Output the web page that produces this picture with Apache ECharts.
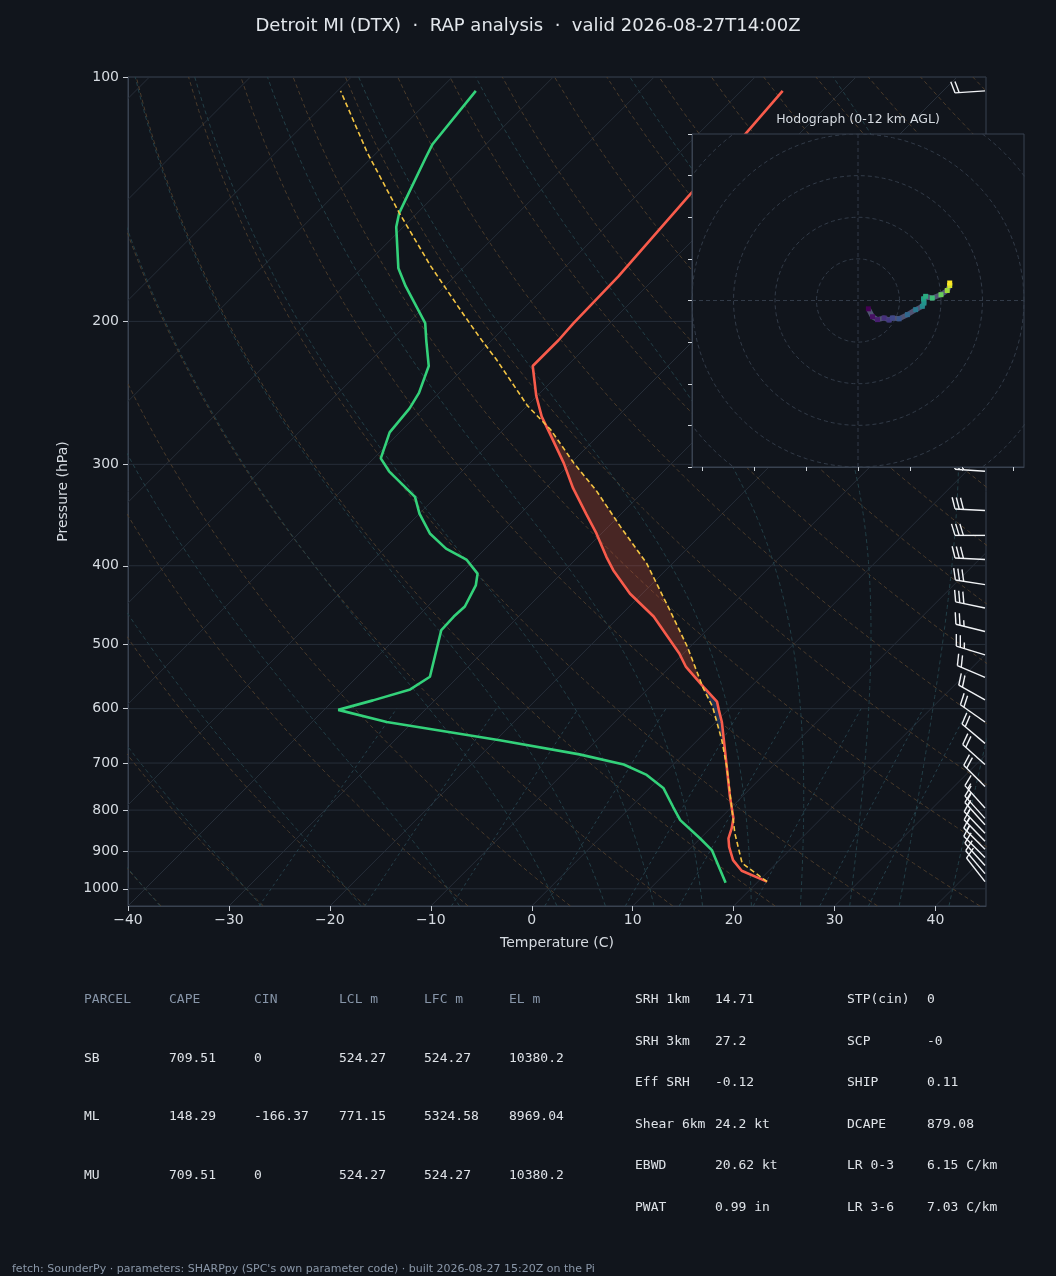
<!DOCTYPE html>
<html>
<head>
<meta charset="utf-8">
<title>Skew-T Detroit</title>
<script src="https://cdn.jsdelivr.net/npm/echarts@6/dist/echarts.min.js"></script>
<style>
html, body { margin: 0; padding: 0; background: #11151c; }
#main { width: 1056px; height: 1276px; }
</style>
</head>
<body>
<div id="main"></div>
<script>
// environment temperature (hPa / degC)
var tempP = [980, 950, 922, 888, 867, 842, 819, 770, 707, 656, 623, 602, 588, 564, 533, 513, 462, 433, 405, 390, 365, 345, 321, 299, 275, 262, 247, 227, 211, 201, 176, 140, 118, 104];
var tempC = [20.9, 17.3, 15.4, 13.7, 12.8, 12.1, 11.3, 8.8, 5.5, 2.6, 0.6, -0.9, -1.9, -4.7, -8.4, -10.4, -16.6, -21.2, -25.2, -27.2, -30.5, -33.5, -37.3, -40.7, -45.0, -47.5, -50.1, -53.4, -53.4, -53.6, -53.8, -54.8, -55.3, -55.9];

// dewpoint
var dewP = [983, 896, 867, 823, 793, 752, 724, 703, 683, 656, 623, 602, 586, 568, 548, 480, 462, 449, 423, 409, 393, 381, 365, 345, 329, 306, 295, 274, 256, 245, 227, 211, 201, 181, 172, 153, 147, 126, 121, 104];
var dewC = [16.9, 12.3, 10.0, 6.2, 4.2, 1.4, -1.6, -4.9, -10.3, -19.6, -32.6, -38.6, -36.1, -33.5, -32.8, -36.3, -36.4, -36.3, -37.3, -38.3, -40.8, -43.9, -47.0, -50.0, -52.1, -57.2, -59.3, -61.0, -61.4, -62.0, -63.7, -66.5, -68.3, -73.9, -76.4, -80.7, -81.8, -84.6, -85.3, -86.3];

// surface parcel path
var parcelP = [980, 930, 854, 793, 707, 656, 623, 597, 566, 503, 454, 397, 358, 323, 299, 272, 254, 223, 211, 197, 171, 147, 124, 104];
var parcelC = [20.9, 16.6, 12.9, 10.0, 5.5, 2.4, 0.1, -1.8, -4.6, -10.3, -15.6, -22.6, -28.8, -34.8, -39.7, -45.3, -50.0, -57.6, -61.0, -65.1, -73.4, -81.8, -90.9, -99.7];

// shaded layers (hPa): CIN below LFC, CAPE from LFC to EL
var cinLayer = [677, 566];
var capeLayer = [566, 272];

// wind barbs on the right edge
var barbP = [104, 306, 342, 367, 393, 422, 451, 482, 515, 549, 585, 623, 662, 703, 748, 795, 819, 834, 854, 874, 894, 915, 936, 958, 980];
var barbDir = [266, 274, 273, 270, 273, 279, 282, 284, 287, 293, 299, 305, 310, 312, 315, 318, 318, 318, 316, 316, 315, 315, 318, 320, 322];
var barbSpd = [20, 30, 30, 30, 30, 30, 30, 25, 25, 20, 20, 20, 20, 20, 20, 15, 15, 15, 15, 15, 15, 10, 10, 10, 10];

// hodograph trace (u, v) and height km
var hodoU = [2.5, 3.5, 4.7, 6.3, 7.5, 8.3, 9.9, 11.9, 13.9, 15.5, 15.9, 15.8, 16.3, 17.9, 20.0, 21.5, 22.1, 22.1];
var hodoV = [-2.0, -3.9, -4.6, -4.2, -4.7, -4.2, -4.4, -3.4, -2.2, -1.4, -0.6, 0.4, 1.0, 0.6, 1.4, 2.4, 3.6, 4.2];
var hodoH = [0, 0.5, 1.0, 1.6, 2.0, 2.6, 3.2, 4.0, 4.8, 5.6, 6.2, 6.8, 7.4, 8.2, 9.2, 10.2, 11.2, 12];
var hodoRings = [10, 20, 30, 40, 50];
var hodoXTicks = [-37.5, -25, -12.5, 0, 12.5, 25, 37.5];

// axis ticks
var pressureTicks = [100, 200, 300, 400, 500, 600, 700, 800, 900, 1000];
var tempTicks = [-40, -30, -20, -10, 0, 10, 20, 30, 40];

// background reference lines
var isotherms = [-120, -110, -100, -90, -80, -70, -60, -50, -40, -30, -20, -10, 0, 10, 20, 30, 40];
var dryT0 = [-40, -30, -20, -10, 0, 10, 20, 30, 40, 50, 60, 70, 80, 90, 100, 110, 120, 130, 140, 150, 160, 170, 180, 190, 200, 210, 220, 230, 240];
var moistT0 = [-40, -30, -20, -10, 0, 5, 10, 15, 20, 25, 30, 35, 40, 45];
var mixingRatios = [0.0004, 0.001, 0.002, 0.004, 0.007, 0.01, 0.016, 0.024, 0.032];

// table texts
var parcelHeader = ['PARCEL', 'CAPE', 'CIN', 'LCL m', 'LFC m', 'EL m'];
var parcelRows = [
    ['SB', '709.51', '0', '524.27', '524.27', '10380.2'],
    ['ML', '148.29', '-166.37', '771.15', '5324.58', '8969.04'],
    ['MU', '709.51', '0', '524.27', '524.27', '10380.2']
];
var paramLeft = [['SRH 1km', '14.71'], ['SRH 3km', '27.2'], ['Eff SRH', '-0.12'], ['Shear 6km', '24.2 kt'], ['EBWD', '20.62 kt'], ['PWAT', '0.99 in']];
var paramRight = [['STP(cin)', '0'], ['SCP', '-0'], ['SHIP', '0.11'], ['DCAPE', '879.08'], ['LR 0-3', '6.15 C/km'], ['LR 3-6', '7.03 C/km']];

var titleText = 'Detroit MI (DTX)  \u00b7  RAP analysis  \u00b7  valid 2026-08-27T14:00Z';
var footerText = "fetch: SounderPy \u00b7 parameters: SHARPpy (SPC's own parameter code) \u00b7 built 2026-08-27 15:20Z on the Pi";

/* ---------- layout & skew ---------- */
var BG = '#11151c';
var FRAME = '#394250';
var TXT = '#d6dbe1';
var PLOT = {left: 128, top: 77, width: 858, height: 829};
var HODO = {left: 692, top: 134, width: 332, height: 333};
var T_MIN = -40, T_MAX = 45;
var LOG_MIN = 2, LOG_MAX = Math.log10(1050);
// 45 degree isotherms: degrees of shift per decade of pressure
var SKEW = (PLOT.height / (LOG_MAX - LOG_MIN)) / (PLOT.width / (T_MAX - T_MIN));

function pt(t, p) {
    return [t + SKEW * (LOG_MAX - Math.log10(p)), Math.log10(p)];
}
function profile(pArr, tArr) {
    return pArr.map(function (p, i) { return pt(tArr[i], p); });
}
// value of a profile at p, linear in log p
function valueAt(pArr, tArr, p) {
    for (var i = 0; i < pArr.length - 1; i++) {
        if (p <= pArr[i] && p >= pArr[i + 1]) {
            var f = (Math.log(pArr[i]) - Math.log(p)) / (Math.log(pArr[i]) - Math.log(pArr[i + 1]));
            return tArr[i] + f * (tArr[i + 1] - tArr[i]);
        }
    }
    return tArr[tArr.length - 1];
}
function layerPolygon(pBot, pTop) {
    var levels = [pBot];
    parcelP.concat(tempP).forEach(function (p) { if (p < pBot && p > pTop) levels.push(p); });
    levels.push(pTop);
    levels.sort(function (a, b) { return b - a; });
    var side1 = levels.map(function (p) { return pt(valueAt(parcelP, parcelC, p), p); });
    var side2 = levels.slice().reverse().map(function (p) { return pt(valueAt(tempP, tempC, p), p); });
    return side1.concat(side2);
}

/* ---------- thermodynamic background lines ---------- */
function dryLine(t0) {
    var out = [];
    for (var p = 1050; p >= 100; p -= 10) {
        out.push(pt((t0 + 273.15) * Math.pow(p / 1000, 0.2857) - 273.15, p));
    }
    return out;
}
function moistRate(p, tk) {
    var Rd = 287.04, Cp = 1005.7, Lv = 2.501e6, eps = 0.622;
    var tc = tk - 273.15;
    var es = 6.112 * Math.exp(17.67 * tc / (tc + 243.5));
    var rs = eps * es / (p - es);
    return (1 / p) * (Rd * tk + Lv * rs) / (Cp + (Lv * Lv * rs * eps) / (Rd * tk * tk));
}
function moistLine(t0) {
    var up = [], down = [], tk, p, dp, k1, k2;
    tk = t0 + 273.15; p = 1000; dp = -5;
    up.push(pt(t0, p));
    while (p > 100) {
        k1 = moistRate(p, tk);
        k2 = moistRate(p + dp, tk + k1 * dp);
        tk += 0.5 * (k1 + k2) * dp; p += dp;
        up.push(pt(tk - 273.15, p));
    }
    tk = t0 + 273.15; p = 1000; dp = 5;
    while (p < 1050) {
        k1 = moistRate(p, tk);
        k2 = moistRate(p + dp, tk + k1 * dp);
        tk += 0.5 * (k1 + k2) * dp; p += dp;
        down.unshift(pt(tk - 273.15, p));
    }
    return down.concat(up);
}
function mixingLine(w) {
    var out = [];
    for (var p = 1050; p >= 600; p -= 10) {
        var e = p * w / (0.622 + w);
        var l = Math.log(e / 6.112);
        out.push(pt(243.5 * l / (17.67 - l), p));
    }
    return out;
}

var series = [];
function bgLine(data, color, dash) {
    series.push({
        type: 'line', xAxisIndex: 0, yAxisIndex: 0, data: data,
        symbol: 'none', silent: true, animation: false, z: 1,
        lineStyle: {color: color, width: 1, type: dash}
    });
}
pressureTicks.forEach(function (p) {
    bgLine([[T_MIN, Math.log10(p)], [T_MAX, Math.log10(p)]], '#262e39', 'solid');
});
isotherms.forEach(function (t) { bgLine([pt(t, 1050), pt(t, 100)], '#262e39', 'solid'); });
dryT0.forEach(function (t) { bgLine(dryLine(t), '#4a3b2b', [4, 3]); });
moistT0.forEach(function (t) { bgLine(moistLine(t), '#233f47', [4, 3]); });
mixingRatios.forEach(function (w) { bgLine(mixingLine(w), '#26414c', [3, 3]); });

/* ---------- CAPE / CIN shading ---------- */
function fillSeries(poly, color) {
    series.push({
        type: 'custom', coordinateSystem: 'cartesian2d', xAxisIndex: 0, yAxisIndex: 0,
        data: [[0, 2.5]], encode: {x: 0, y: 1}, silent: true, animation: false, z: 2,
        renderItem: function (params, api) {
            return {
                type: 'polygon',
                shape: {points: poly.map(function (d) { return api.coord(d); })},
                style: {fill: color}
            };
        }
    });
}
fillSeries(layerPolygon(cinLayer[0], cinLayer[1]), 'rgba(70,120,220,0.28)');
fillSeries(layerPolygon(capeLayer[0], capeLayer[1]), 'rgba(230,90,60,0.26)');

/* ---------- profiles ---------- */
series.push({
    name: 'Parcel', type: 'line', xAxisIndex: 0, yAxisIndex: 0, data: profile(parcelP, parcelC),
    symbol: 'none', animation: false, z: 4,
    lineStyle: {color: '#f3c443', width: 1.6, type: [5, 3]}
});
series.push({
    name: 'Temperature', type: 'line', xAxisIndex: 0, yAxisIndex: 0, data: profile(tempP, tempC),
    symbol: 'none', animation: false, z: 3,
    lineStyle: {color: '#f85b4b', width: 2.6}
});
series.push({
    name: 'Dewpoint', type: 'line', xAxisIndex: 0, yAxisIndex: 0, data: profile(dewP, dewC),
    symbol: 'none', animation: false, z: 3,
    lineStyle: {color: '#33d17a', width: 2.6}
});

/* ---------- wind barbs ---------- */
function renderBarb(params, api) {
    var base = api.coord([api.value(0), api.value(1)]);
    var spd = api.value(2), dir = api.value(3) * Math.PI / 180;
    var dx = Math.sin(dir), dy = -Math.cos(dir);   // staff points to where wind comes from
    var nx = -dy, ny = dx;                          // feather side
    var L = 30, H = 11.5, LEAN = 3.5, GAP = 4.2;
    var tip = [base[0] + dx * L, base[1] + dy * L];
    var st = {stroke: '#f1f3f6', lineWidth: 1.4};
    var kids = [{type: 'line', shape: {x1: base[0], y1: base[1], x2: tip[0], y2: tip[1]}, style: st}];
    var r = Math.round(spd / 5) * 5;
    var n10 = Math.floor(r / 10), n5 = (r % 10) >= 5 ? 1 : 0;
    var off = 0;
    for (var i = 0; i < n10; i++) {
        var sx0 = tip[0] - dx * off, sy0 = tip[1] - dy * off;
        kids.push({type: 'line', shape: {x1: sx0, y1: sy0, x2: sx0 + nx * H + dx * LEAN, y2: sy0 + ny * H + dy * LEAN}, style: st});
        off += GAP;
    }
    if (n5) {
        if (n10 === 0) off += 1.5 * GAP;
        var hx = tip[0] - dx * off, hy = tip[1] - dy * off;
        kids.push({type: 'line', shape: {x1: hx, y1: hy, x2: hx + nx * H / 2 + dx * LEAN / 2, y2: hy + ny * H / 2 + dy * LEAN / 2}, style: st});
    }
    return {type: 'group', children: kids};
}
series.push({
    type: 'custom', coordinateSystem: 'cartesian2d', xAxisIndex: 0, yAxisIndex: 0,
    data: barbP.map(function (p, i) { return [T_MAX - 0.1, Math.log10(p), barbSpd[i], barbDir[i]]; }),
    encode: {x: 0, y: 1}, renderItem: renderBarb, silent: true, animation: false, z: 5
});

/* ---------- hodograph ---------- */
function hodoLine(data, dash) {
    series.push({
        type: 'line', xAxisIndex: 1, yAxisIndex: 1, data: data, symbol: 'none',
        silent: true, animation: false, z: 50,
        lineStyle: {color: '#323b48', width: 1, type: dash}
    });
}
hodoRings.forEach(function (r) {
    var ring = [];
    for (var a = 0; a <= 360; a += 3) {
        ring.push([r * Math.cos(a * Math.PI / 180), r * Math.sin(a * Math.PI / 180)]);
    }
    hodoLine(ring, [4, 3]);
});
hodoLine([[-40, 0], [40, 0]], [4, 3]);
hodoLine([[0, -40], [0, 40]], [4, 3]);
var hodoIndex = series.length;
series.push({
    name: 'Hodograph', type: 'line', xAxisIndex: 1, yAxisIndex: 1,
    data: hodoU.map(function (u, i) { return [u, hodoV[i], hodoH[i]]; }),
    symbol: 'rect', symbolSize: 5, animation: false, z: 51,
    lineStyle: {width: 5}
});

/* ---------- texts ---------- */
var graphics = [];
function txt(x, y, s, color, font, align) {
    graphics.push({
        type: 'text', x: x, y: y, z: 100, silent: true,
        style: {text: s, fill: color, font: font, align: align || 'left', textAlign: align || 'left',
                verticalAlign: 'middle', textVerticalAlign: 'middle'}
    });
}
var MONO = '13px "DejaVu Sans Mono", monospace';
var colX = [84, 169, 254, 339, 424, 509];
var rowY = [1000, 1058.5, 1117, 1176];
parcelHeader.forEach(function (h, j) { txt(colX[j], rowY[0], h, '#8795a8', MONO); });
parcelRows.forEach(function (row, i) {
    row.forEach(function (c, j) { txt(colX[j], rowY[i + 1], c, '#dfe3e8', MONO); });
});
var prmY = [1000, 1041.5, 1083, 1124.5, 1166, 1207.5];
paramLeft.forEach(function (r, i) {
    txt(635, prmY[i], r[0], '#dfe3e8', MONO);
    txt(715, prmY[i], r[1], '#dfe3e8', MONO);
});
paramRight.forEach(function (r, i) {
    txt(847, prmY[i], r[0], '#dfe3e8', MONO);
    txt(927, prmY[i], r[1], '#dfe3e8', MONO);
});
txt(858, 120, 'Hodograph (0-12 km AGL)', TXT, '12.5px "DejaVu Sans"', 'center');
txt(12, 1269, footerText, '#8a97a8', '11px "DejaVu Sans"');

var myChart = echarts.init(document.getElementById('main'), null, {renderer: 'canvas'});
myChart.setOption({
    backgroundColor: BG,
    animation: false,
    textStyle: {fontFamily: '"DejaVu Sans", sans-serif'},
    title: {
        text: titleText, left: 'center', top: 17, padding: 0,
        textStyle: {color: '#e3e7ec', fontSize: 18, fontWeight: 'normal', fontFamily: '"DejaVu Sans"'}
    },
    grid: [
        {left: PLOT.left, top: PLOT.top, width: PLOT.width, height: PLOT.height,
         show: true, borderColor: FRAME, borderWidth: 1, backgroundColor: 'transparent'},
        {left: HODO.left, top: HODO.top, width: HODO.width, height: HODO.height,
         show: true, borderColor: FRAME, borderWidth: 1, backgroundColor: BG, z: 40}
    ],
    xAxis: [
        {gridIndex: 0, type: 'value', min: T_MIN, max: T_MAX, interval: 10,
         name: 'Temperature (C)', nameLocation: 'middle', nameGap: 30,
         nameTextStyle: {color: TXT, fontSize: 14},
         axisLine: {show: true, onZero: false, lineStyle: {color: FRAME}},
         axisTick: {show: true, length: 5, customValues: tempTicks, lineStyle: {color: '#c9ced5'}},
         axisLabel: {color: TXT, fontSize: 14, margin: 7, customValues: tempTicks,
                     formatter: function (v) { return String(v).replace('-', '\u2212'); }},
         splitLine: {show: false}},
        {gridIndex: 1, type: 'value', min: -40, max: 40, z: 50,
         axisLine: {show: true, onZero: false, lineStyle: {color: FRAME}},
         axisTick: {show: true, length: 4, customValues: hodoXTicks, lineStyle: {color: '#cfd4da'}},
         axisLabel: {show: false}, splitLine: {show: false}}
    ],
    yAxis: [
        {gridIndex: 0, type: 'value', min: LOG_MIN, max: LOG_MAX, inverse: true,
         name: 'Pressure (hPa)', nameLocation: 'middle', nameGap: 58, nameRotate: 90,
         nameTextStyle: {color: TXT, fontSize: 14},
         axisLine: {show: true, onZero: false, lineStyle: {color: FRAME}},
         axisTick: {show: true, length: 5, lineStyle: {color: '#c9ced5'},
                    customValues: pressureTicks.map(function (p) { return Math.log10(p); })},
         axisLabel: {color: TXT, fontSize: 14, margin: 9,
                     customValues: pressureTicks.map(function (p) { return Math.log10(p); }),
                     formatter: function (v) { return String(Math.round(Math.pow(10, v))); }},
         splitLine: {show: false}},
        {gridIndex: 1, type: 'value', min: -40, max: 40, interval: 10, z: 50,
         axisLine: {show: true, onZero: false, lineStyle: {color: FRAME}},
         axisTick: {show: true, length: 4, lineStyle: {color: '#cfd4da'}},
         axisLabel: {show: false}, splitLine: {show: false}}
    ],
    visualMap: [{
        type: 'continuous', show: false, seriesIndex: hodoIndex, dimension: 2, min: 0, max: 12,
        inRange: {color: ['#440154', '#482878', '#3e4989', '#31688e', '#26828e', '#1f9e89', '#35b779', '#6ece58', '#b5de2b', '#fde725']}
    }],
    graphic: {elements: graphics},
    series: series
});
</script>
</body>
</html>
